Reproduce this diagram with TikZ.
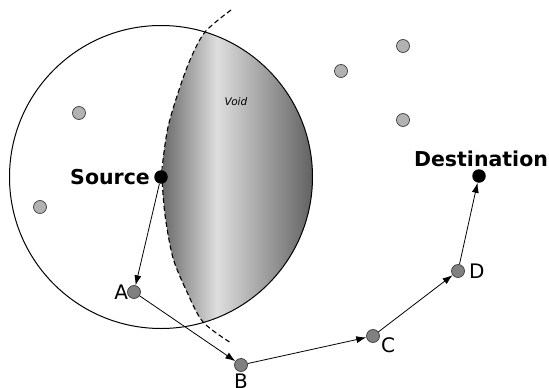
\documentclass[tikz,border=0pt]{standalone}
\usepackage{fontspec}
\setmainfont{DejaVu Sans}
\usetikzlibrary{arrows.meta,positioning}
\pgfdeclarehorizontalshading{voidshade}{100bp}{color(0bp)=(black!58); color(25bp)=(black!58); color(43bp)=(black!13); color(75bp)=(black!62); color(100bp)=(black!62)}

\begin{document}
\begin{tikzpicture}[x=1pt,y=1pt]
  \tikzstyle{every node}+=[inner sep=0pt]
  \tikzstyle{peer}=[circle,draw=black!75,fill=black!30,line width=0.7pt,minimum size=13pt]
  \tikzstyle{hop}=[circle,draw=black!75,fill=black!50,line width=0.7pt,minimum size=13pt]
  \tikzstyle{endpt}=[circle,fill=black,minimum size=13.5pt]
  \tikzstyle{tag}=[font=\fontsize{20}{24}\selectfont]
  \tikzstyle{fwd}=[-{Latex[length=10pt,width=7pt]},line width=0.8pt]
  \useasboundingbox (0,0) rectangle (549,-388);
  \coordinate (ctr) at (161,-177);
  \begin{scope}
    \clip (ctr) circle (151.5pt);
    \clip plot [smooth] coordinates {(231,-10) (205,-32) (190,-60) (178,-93) (168,-127) (163,-160) (162,-177) (165,-215) (173,-258) (187,-292) (203,-322) (231,-343)} -- (330,-343) -- (330,-10) -- cycle;
    \shade [shading=voidshade] (163,-26) rectangle (313,-329);
  \end{scope}
  \draw [black, line width=1pt] (ctr) circle (151.5pt);
  \draw [black, line width=1.1pt, dash pattern=on 5pt off 3pt] plot [smooth] coordinates {(231,-10) (205,-32) (190,-60) (178,-93) (168,-127) (163,-160) (162,-177) (165,-215) (173,-258) (187,-292) (203,-322) (231,-343)};
  \node [font=\fontsize{10.5}{12}\selectfont\itshape] (void) at (236,-102) {Void};
  \node [peer] (p1) at (79,-113) {};
  \node [peer] (p2) at (40,-207) {};
  \node [peer] (p3) at (341,-71) {};
  \node [peer] (p4) at (403,-46) {};
  \node [peer] (p5) at (403,-120) {};
  \node [hop] (A) at (134,-292) {};
  \node [hop] (B) at (241,-365) {};
  \node [hop] (C) at (373,-336) {};
  \node [hop] (D) at (458,-271) {};
  \node [endpt] (src) at (ctr) {};
  \node [endpt] (dst) at (479,-176) {};
  \node [tag, font=\fontsize{20.5}{24}\selectfont\bfseries, left=4pt of src] (srcl) {Source};
  \node [tag, font=\fontsize{20.5}{24}\selectfont\bfseries, above=2pt of dst, xshift=2pt] (dstl) {Destination};
  \node [tag, left=-1pt of A] (Al) {A};
  \node [tag, below=2pt of B] (Bl) {B};
  \node [tag, anchor=north west] (Cl) at ([xshift=1pt,yshift=-1pt]C.east) {C};
  \node [tag, right=4pt of D] (Dl) {D};
  \draw [fwd] (src) -- (A);
  \draw [fwd] (A) -- (B);
  \draw [fwd] (B) -- (C);
  \draw [fwd] (C) -- (D);
  \draw [fwd] (D) -- (dst);
\end{tikzpicture}
\end{document}
